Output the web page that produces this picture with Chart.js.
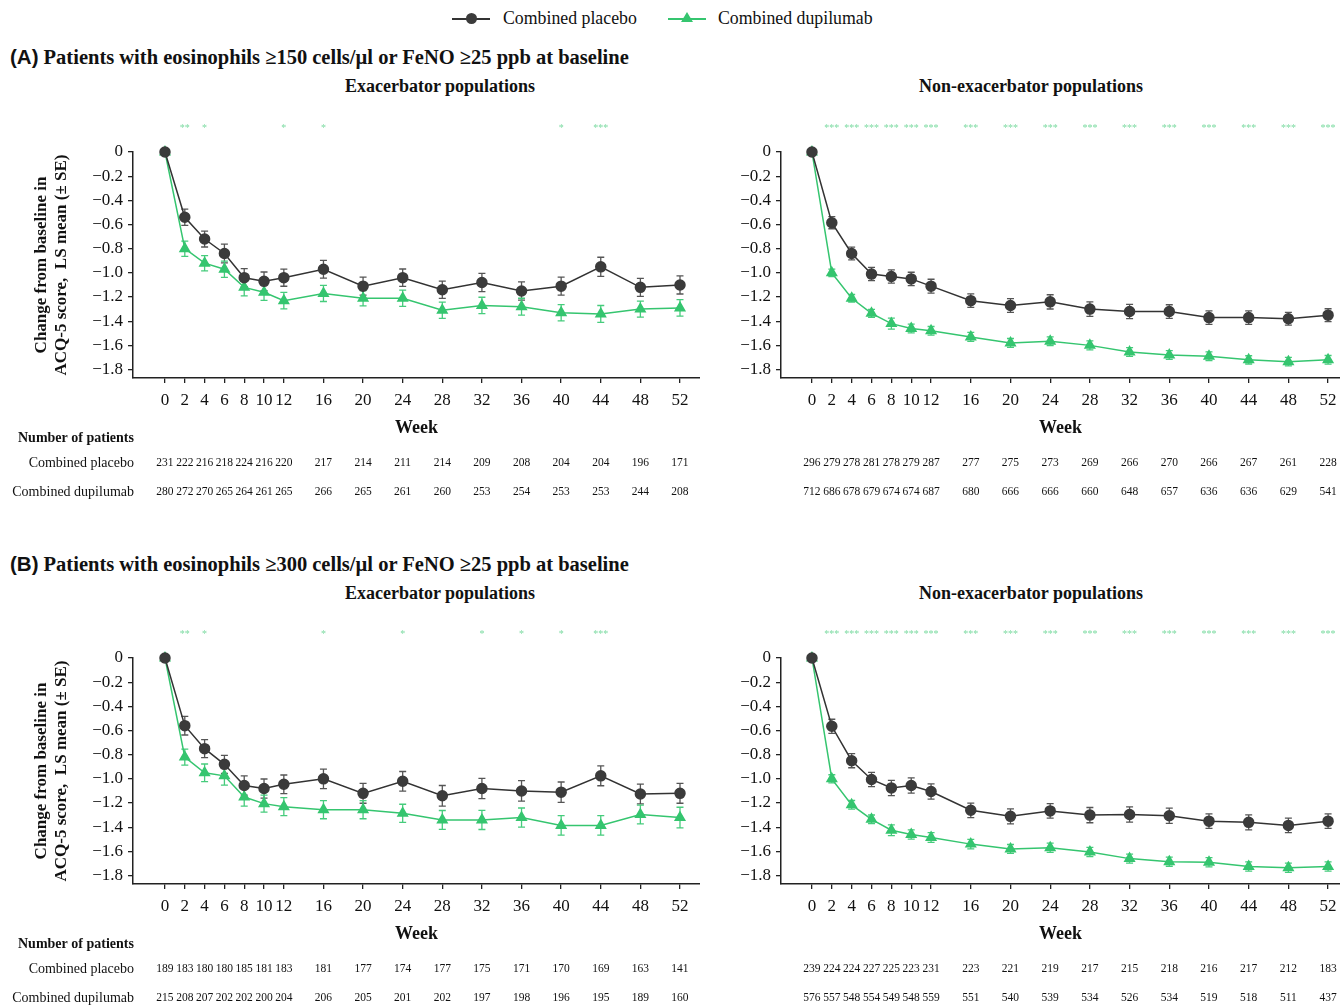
<!DOCTYPE html>
<html>
<head>
<meta charset="utf-8">
<script src="https://cdn.jsdelivr.net/npm/chart.js"></script>
<style>
  body { margin: 0; width: 1340px; height: 1005px; overflow: hidden; background: #fff; position: relative;
         font-family: 'Liberation Serif', 'Times New Roman', serif; color: #111; }
  .box { position: absolute; }
  .title { position: absolute; left: 10px; font-weight: bold; font-size: 20.5px; white-space: nowrap; }
  .title .lab { font-family: 'Liberation Sans', Arial, sans-serif; }
  .sub { position: absolute; font-weight: bold; font-size: 18px; transform: translateX(-50%); white-space: nowrap; }
  .leg { position: absolute; top: 8px; font-size: 17.8px; white-space: nowrap; }
  .legline { position: absolute; height: 1.5px; width: 38px; }
</style>
</head>
<body>

<!-- legend -->
<div class="legline" style="left:452px; top:18px; background:#333;"></div>
<div style="position:absolute; left:466px; top:13px; width:11px; height:11px; border-radius:50%; background:#3b3b3b;"></div>
<div class="leg" style="left:503px;">Combined placebo</div>
<div class="legline" style="left:668px; top:18px; background:#35c56f;"></div>
<div style="position:absolute; left:681px; top:12px; width:0; height:0; border-left:6px solid transparent; border-right:6px solid transparent; border-bottom:10px solid #35c56f;"></div>
<div class="leg" style="left:718px;">Combined dupilumab</div>

<div class="title" style="top:45px;"><span class="lab">(A)</span> Patients with eosinophils ≥150 cells/µl or FeNO ≥25 ppb at baseline</div>
<div class="sub" style="left:440px; top:76px;">Exacerbator populations</div>
<div class="sub" style="left:1031px; top:76px;">Non-exacerbator populations</div>

<div class="title" style="top:552px;"><span class="lab">(B)</span> Patients with eosinophils ≥300 cells/µl or FeNO ≥25 ppb at baseline</div>
<div class="sub" style="left:440px; top:583px;">Exacerbator populations</div>
<div class="sub" style="left:1031px; top:583px;">Non-exacerbator populations</div>

<div class="box" style="left:0px; top:100px; width:700px; height:410px;"><canvas id="chartA1"></canvas></div>
<div class="box" style="left:700px; top:100px; width:640px; height:410px;"><canvas id="chartA2"></canvas></div>
<div class="box" style="left:0px; top:606px; width:700px; height:410px;"><canvas id="chartB1"></canvas></div>
<div class="box" style="left:700px; top:606px; width:640px; height:410px;"><canvas id="chartB2"></canvas></div>

<script>
// weeks shown on the x axis
const weeks = [0, 2, 4, 6, 8, 10, 12, 16, 20, 24, 28, 32, 36, 40, 44, 48, 52]
const yTicks = [0, -0.2, -0.4, -0.6, -0.8, -1.0, -1.2, -1.4, -1.6, -1.8]

// (A) eos >=150 or FeNO >=25, exacerbators
const placeboA1 = [0, -0.54, -0.72, -0.84, -1.04, -1.07, -1.04, -0.97, -1.11, -1.04, -1.14, -1.08, -1.15, -1.11, -0.95, -1.12, -1.10]
const placeboSeA1 = [0, 0.067, 0.066, 0.077, 0.075, 0.077, 0.071, 0.074, 0.074, 0.072, 0.071, 0.075, 0.075, 0.074, 0.079, 0.074, 0.075]
const dupiA1 = [0, -0.80, -0.92, -0.97, -1.12, -1.16, -1.23, -1.17, -1.21, -1.21, -1.31, -1.27, -1.28, -1.33, -1.34, -1.30, -1.29]
const dupiSeA1 = [0, 0.063, 0.063, 0.067, 0.07, 0.067, 0.068, 0.067, 0.064, 0.067, 0.067, 0.068, 0.07, 0.067, 0.07, 0.066, 0.068]
const starsA1 = ['', '**', '*', '', '', '', '*', '*', '', '', '', '', '', '*', '***', '', '']
const nPlaceboA1 = [231, 222, 216, 218, 224, 216, 220, 217, 214, 211, 214, 209, 208, 204, 204, 196, 171]
const nDupiA1 = [280, 272, 270, 265, 264, 261, 265, 266, 265, 261, 260, 253, 254, 253, 253, 244, 208]

// (A) non-exacerbators
const placeboA2 = [0, -0.585, -0.84, -1.01, -1.03, -1.05, -1.11, -1.23, -1.27, -1.24, -1.30, -1.32, -1.32, -1.37, -1.37, -1.38, -1.35]
const placeboSeA2 = [0, 0.05, 0.053, 0.055, 0.055, 0.055, 0.057, 0.056, 0.057, 0.059, 0.06, 0.059, 0.056, 0.056, 0.056, 0.053, 0.053]
const dupiA2 = [0, -1.00, -1.21, -1.335, -1.42, -1.46, -1.48, -1.53, -1.58, -1.565, -1.60, -1.655, -1.68, -1.69, -1.72, -1.735, -1.72]
const dupiSeA2 = [0, 0.031, 0.031, 0.033, 0.045, 0.036, 0.036, 0.037, 0.037, 0.036, 0.037, 0.036, 0.036, 0.036, 0.034, 0.035, 0.036]
const starsA2 = ['', '***', '***', '***', '***', '***', '***', '***', '***', '***', '***', '***', '***', '***', '***', '***', '***']
const nPlaceboA2 = [296, 279, 278, 281, 278, 279, 287, 277, 275, 273, 269, 266, 270, 266, 267, 261, 228]
const nDupiA2 = [712, 686, 678, 679, 674, 674, 687, 680, 666, 666, 660, 648, 657, 636, 636, 629, 541]

// (B) eos >=300 or FeNO >=25, exacerbators
const placeboB1 = [0, -0.56, -0.75, -0.88, -1.055, -1.08, -1.045, -1.00, -1.12, -1.02, -1.14, -1.08, -1.10, -1.11, -0.975, -1.125, -1.12]
const placeboSeB1 = [0, 0.077, 0.075, 0.074, 0.079, 0.079, 0.077, 0.081, 0.082, 0.081, 0.085, 0.084, 0.085, 0.084, 0.082, 0.082, 0.082]
const dupiB1 = [0, -0.82, -0.95, -0.975, -1.15, -1.205, -1.23, -1.255, -1.255, -1.285, -1.34, -1.34, -1.32, -1.385, -1.385, -1.295, -1.32]
const dupiSeB1 = [0, 0.066, 0.073, 0.077, 0.075, 0.07, 0.075, 0.075, 0.075, 0.075, 0.078, 0.079, 0.079, 0.081, 0.081, 0.078, 0.085]
const starsB1 = ['', '**', '*', '', '', '', '', '*', '', '*', '', '*', '*', '*', '***', '', '']
const nPlaceboB1 = [189, 183, 180, 180, 185, 181, 183, 181, 177, 174, 177, 175, 171, 170, 169, 163, 141]
const nDupiB1 = [215, 208, 207, 202, 202, 200, 204, 206, 205, 201, 202, 197, 198, 196, 195, 189, 160]

// (B) non-exacerbators
const placeboB2 = [0, -0.565, -0.85, -1.005, -1.075, -1.055, -1.105, -1.26, -1.31, -1.265, -1.30, -1.295, -1.305, -1.35, -1.36, -1.385, -1.35]
const placeboSeB2 = [0, 0.058, 0.058, 0.059, 0.063, 0.063, 0.063, 0.06, 0.062, 0.06, 0.063, 0.063, 0.063, 0.06, 0.062, 0.06, 0.06]
const dupiB2 = [0, -1.00, -1.215, -1.335, -1.425, -1.46, -1.485, -1.54, -1.58, -1.57, -1.605, -1.66, -1.685, -1.69, -1.725, -1.735, -1.725]
const dupiSeB2 = [0, 0.034, 0.036, 0.036, 0.044, 0.038, 0.04, 0.04, 0.037, 0.038, 0.038, 0.038, 0.038, 0.038, 0.038, 0.038, 0.038]
const starsB2 = starsA2
const nPlaceboB2 = [239, 224, 224, 227, 225, 223, 231, 223, 221, 219, 217, 215, 218, 216, 217, 212, 183]
const nDupiB2 = [576, 557, 548, 554, 549, 548, 559, 551, 540, 539, 534, 526, 534, 519, 518, 511, 437]

const SERIF = "'Liberation Serif', 'Times New Roman', serif"
const DARK = '#3b3b3b'
const GREEN = '#35c56f'

// draws error bars, significance stars and the number-of-patients rows
const extrasPlugin = {
  id: 'extras',
  beforeDatasetsDraw(chart) {
    const {ctx, scales: {x, y}} = chart
    chart.data.datasets.forEach(ds => {
      ctx.save()
      ctx.strokeStyle = ds.errorColor
      ctx.lineWidth = 1.3
      ds.data.forEach((p, i) => {
        const e = ds.errors[i]
        if (!e) return
        const px = x.getPixelForValue(p.x)
        const y1 = y.getPixelForValue(p.y + e)
        const y2 = y.getPixelForValue(p.y - e)
        ctx.beginPath()
        ctx.moveTo(px, y1); ctx.lineTo(px, y2)
        ctx.moveTo(px - 3.5, y1); ctx.lineTo(px + 3.5, y1)
        ctx.moveTo(px - 3.5, y2); ctx.lineTo(px + 3.5, y2)
        ctx.stroke()
      })
      ctx.restore()
    })
  },
  afterDraw(chart) {
    const o = chart.options.plugins.extras
    const {ctx, chartArea, scales: {x}} = chart
    ctx.save()
    // stars
    ctx.fillStyle = '#7ddba2'
    ctx.font = '10px ' + SERIF
    ctx.textAlign = 'center'
    ctx.textBaseline = 'middle'
    o.stars.forEach((s, i) => {
      if (s) ctx.fillText(s, x.getPixelForValue(weeks[i]), chartArea.top - 24)
    })
    // number of patients
    ctx.fillStyle = '#111'
    ctx.font = '11.5px ' + SERIF
    o.nPlacebo.forEach((n, i) => ctx.fillText(n, x.getPixelForValue(weeks[i]), chartArea.bottom + 85))
    o.nDupi.forEach((n, i) => ctx.fillText(n, x.getPixelForValue(weeks[i]), chartArea.bottom + 114))
    if (o.rowLabels) {
      ctx.textAlign = 'left'
      ctx.font = 'bold 14px ' + SERIF
      ctx.fillText('Number of patients', 18, chartArea.bottom + 60)
      ctx.textAlign = 'right'
      ctx.font = '14px ' + SERIF
      ctx.fillText('Combined placebo', chartArea.left + 1, chartArea.bottom + 85)
      ctx.fillText('Combined dupilumab', chartArea.left + 1, chartArea.bottom + 114)
    }
    ctx.restore()
  }
}

function makePanel(id, placebo, placeboSe, dupi, dupiSe, stars, nPlacebo, nDupi, isLeft) {
  new Chart(document.getElementById(id), {
    type: 'line',
    data: {
      datasets: [{
        label: 'Combined placebo',
        data: weeks.map((w, i) => ({x: w, y: placebo[i]})),
        errors: placeboSe,
        errorColor: '#555',
        borderColor: '#333',
        backgroundColor: DARK,
        borderWidth: 1.5,
        pointStyle: 'circle',
        pointRadius: 5,
        pointBorderColor: DARK,
        clip: false
      }, {
        label: 'Combined dupilumab',
        data: weeks.map((w, i) => ({x: w, y: dupi[i]})),
        errors: dupiSe,
        errorColor: '#46cc7c',
        borderColor: GREEN,
        backgroundColor: GREEN,
        borderWidth: 1.5,
        pointStyle: 'triangle',
        pointRadius: 5.5,
        pointBorderColor: GREEN,
        clip: false
      }]
    },
    options: {
      responsive: true,
      maintainAspectRatio: false,
      animation: false,
      layout: {autoPadding: false, padding: {top: 52, right: 0, bottom: 0, left: 0}},
      plugins: {
        legend: {display: false},
        tooltip: {enabled: false},
        extras: {stars: stars, nPlacebo: nPlacebo, nDupi: nDupi, rowLabels: isLeft}
      },
      scales: {
        x: {
          type: 'linear',
          min: isLeft ? -3.23 : -3.12,
          max: isLeft ? 54.02 : 53.2,
          afterBuildTicks: scale => { scale.ticks = weeks.map(w => ({value: w})) },
          afterFit: scale => { scale.height = 132; scale.paddingLeft = 0; scale.paddingRight = 0 },
          ticks: {autoSkip: false, maxRotation: 0, padding: 7, color: '#111',
                  font: {family: SERIF, size: 17}},
          grid: {drawOnChartArea: false, tickLength: 5, color: '#222', lineWidth: 1.3},
          border: {color: '#222', width: 1.5},
          title: {display: true, text: 'Week', color: '#111',
                  font: {family: SERIF, size: 18, weight: 'bold'}, padding: {top: 0, bottom: 71}}
        },
        y: {
          min: -1.87,
          max: 0,
          afterBuildTicks: scale => { scale.ticks = yTicks.map(v => ({value: v})) },
          afterFit: scale => { scale.width = isLeft ? 133 : 81; scale.paddingTop = 0; scale.paddingBottom = 0 },
          ticks: {padding: 5, color: '#111', font: {family: SERIF, size: 17},
                  callback: v => v === 0 ? '0' : '\u2212' + Math.abs(v).toFixed(1)},
          grid: {drawOnChartArea: false, tickLength: 5, color: '#222', lineWidth: 1.3},
          border: {color: '#222', width: 1.5},
          title: {display: isLeft, color: '#111',
                  text: ['Change from baseline in', 'ACQ-5 score,  LS mean (\u00b1 SE)'],
                  font: {family: SERIF, size: 17, weight: 'bold'}, padding: {top: 31, bottom: 0}}
        }
      }
    },
    plugins: [extrasPlugin]
  })
}

makePanel('chartA1', placeboA1, placeboSeA1, dupiA1, dupiSeA1, starsA1, nPlaceboA1, nDupiA1, true)
makePanel('chartA2', placeboA2, placeboSeA2, dupiA2, dupiSeA2, starsA2, nPlaceboA2, nDupiA2, false)
makePanel('chartB1', placeboB1, placeboSeB1, dupiB1, dupiSeB1, starsB1, nPlaceboB1, nDupiB1, true)
makePanel('chartB2', placeboB2, placeboSeB2, dupiB2, dupiSeB2, starsB2, nPlaceboB2, nDupiB2, false)
</script>
</body>
</html>
